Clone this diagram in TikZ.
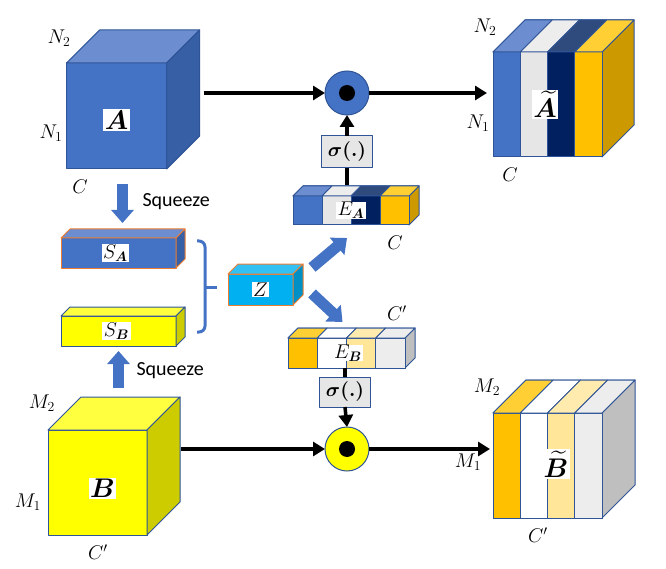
\documentclass[tikz,border=0pt]{standalone}
\usepackage{amsmath}
\usepackage{graphicx}
\usepackage{fontspec}
\newfontfamily\calibri{Carlito}
\usetikzlibrary{arrows.meta,calc,positioning}

\definecolor{ablue}{HTML}{4472C4}
\definecolor{abluetop}{HTML}{6C8ED0}
\definecolor{abluesd}{HTML}{365FA6}
\definecolor{edge}{HTML}{2F5597}
\definecolor{navy}{HTML}{002060}
\definecolor{navytop}{HTML}{2F4B7E}
\definecolor{lgray}{HTML}{E7E6E6}
\definecolor{lgraytop}{HTML}{EDEDED}
\definecolor{gold}{HTML}{FFC000}
\definecolor{goldtop}{HTML}{FFCF33}
\definecolor{goldsd}{HTML}{CC9A00}
\definecolor{yel}{HTML}{FFFF00}
\definecolor{yeltop}{HTML}{FFFF40}
\definecolor{yelsd}{HTML}{CCCC00}
\definecolor{lyel}{HTML}{FFE699}
\definecolor{lyeltop}{HTML}{FFEBAD}
\definecolor{pgray}{HTML}{EDEDED}
\definecolor{graysd}{HTML}{BFBFBF}
\definecolor{zcyan}{HTML}{00B0F0}
\definecolor{zcyantop}{HTML}{33C1F3}
\definecolor{zcyansd}{HTML}{0090C6}
\definecolor{orng}{HTML}{ED7D31}

\tikzset{
  face/.style={draw=#1, line width=1pt, line join=round, inner sep=0pt, outer sep=0pt},
  face/.default=edge,
  tag/.style={fill=white, inner sep=1.5pt},
  lbl/.style={font=\LARGE},
  big/.style={tag, font=\huge},
  flow/.style={line width=3.5pt, -{Triangle[width=14pt,length=12pt]}},
  blk/.style={line width=11pt, draw=ablue, -{Triangle[width=22pt,length=13pt]}},
  sig/.style={face, fill=lgray, minimum width=51pt, minimum height=32pt, font=\LARGE},
  mult/.style={circle, face, minimum size=44pt},
  sq/.style={font=\calibri\fontsize{20}{24}\selectfont, anchor=west},
}
% enlarged math labels
\newcommand{\mlab}[1]{\scalebox{1.15}{$#1$}}
\newcommand{\blab}[1]{\scalebox{1.3}{$\boldsymbol{#1}$}}

% name, position, width, height, depth, front, top, side, border
\newcommand{\cuboid}[9]{%
  \node[face=#9, fill=#6, minimum width=#3pt, minimum height=#4pt, anchor=north west] (#1) at #2 {};
  \draw[face=#9, fill=#7] (#1.north west) -- ++(#5,-#5) -- ++(#3,0) -- (#1.north east) -- cycle;
  \draw[face=#9, fill=#8] (#1.north east) -- ++(#5,-#5) -- ++(0,#4) -- (#1.south east) -- cycle;
}
% four channel stripes on front and top of a cuboid
\newcommand{\stripes}[5]{%
  \foreach \fc/\tc [count=\i from 0] in {#5}{
    \draw[face, fill=\fc] ($(#1.north west)+(\i*#2/4,0)$) rectangle ++(#2/4,#3);
    \draw[face, fill=\tc] ($(#1.north west)+(\i*#2/4,0)$) -- ++(#4,-#4) -- ++(#2/4,0) -- ++(-#4,#4) -- cycle;
  }%
}

\begin{document}
\begin{tikzpicture}[x=1pt,y=-1pt]
  \useasboundingbox (0,0) rectangle (666,569);
  % inputs
  \cuboid{A}{(66.7,63)}{100}{106}{33}{ablue}{abluetop}{abluesd}{edge}
  \node[big] (Alab) at ([yshift=-4pt]A.center) {\blab{A}};
  \cuboid{B}{(48,430)}{99}{105}{33}{yel}{yeltop}{yelsd}{edge}
  \node[big] (Blab) at ([xshift=5pt,yshift=-6pt]B.center) {\blab{B}};
  % squeezed vectors
  \cuboid{SA}{(61,238)}{115}{30}{9}{ablue}{abluetop}{abluesd}{orng}
  \node[tag, lbl, inner ysep=1pt] (SAlab) at ([xshift=-3pt]SA.center) {\mlab{S_{\boldsymbol{A}}}};
  \cuboid{SB}{(61,316)}{115}{30}{9}{yel}{yeltop}{yelsd}{edge}
  \node[tag, lbl, inner ysep=1pt] (SBlab) at ([xshift=-2pt]SB.center) {\mlab{S_{\boldsymbol{B}}}};
  \cuboid{Z}{(228,274)}{65}{31}{10}{zcyan}{zcyantop}{zcyansd}{orng}
  \node[tag, lbl, inner ysep=1pt] (Zlab) at (Z.center) {\mlab{Z}};
  % excitation vectors
  \cuboid{EA}{(293,196)}{116}{29}{10}{ablue}{abluetop}{goldsd}{edge}
  \stripes{EA}{116}{29}{10}{ablue/abluetop, lgray/lgraytop, navy/navytop, gold/goldtop}
  \node[tag, lbl, inner ysep=0pt] (EAlab) at (EA.center) {\mlab{E_{\boldsymbol{A}}}};
  \cuboid{EB}{(288,338)}{117}{30}{10}{gold}{goldtop}{graysd}{edge}
  \stripes{EB}{117}{30}{10}{gold/goldtop, white/white, lyel/lyeltop, pgray/pgray}
  \node[tag, lbl, inner ysep=0pt] (EBlab) at ([xshift=1.5pt]EB.center) {\mlab{E_{\boldsymbol{B}}}};
  % outputs
  \cuboid{At}{(493,52)}{109}{105}{32}{ablue}{abluetop}{goldsd}{edge}
  \stripes{At}{109}{105}{32}{ablue/abluetop, lgray/lgraytop, navy/navytop, gold/goldtop}
  \node[big] (Atlab) at ([xshift=-2.5pt]At.center) {\blab{\widetilde{A}}};
  \cuboid{Bt}{(493,413)}{109}{105}{33}{gold}{goldtop}{graysd}{edge}
  \stripes{Bt}{109}{105}{33}{gold/goldtop, white/white, lyel/lyeltop, pgray/pgray}
  \node[big] (Btlab) at ([xshift=8.5pt,yshift=1.5pt]Bt.center) {\blab{\widetilde{B}}};
  % gates
  \node[mult, fill=ablue] (c1) at (347,93) {};
  \fill (c1) circle (8);
  \node[mult, fill=yel] (c2) at (347,449) {};
  \fill (c2) circle (8);
  \node[sig] (s1) at (347,152) {\mlab{\boldsymbol{\sigma(.)}}};
  \node[sig, minimum height=30pt] (s2) at (345,392) {\mlab{\boldsymbol{\sigma(.)}}};
  % connections
  \draw[flow, shorten <=37pt] (A.east |- c1) -- (c1.west);
  \draw[flow, shorten >=6pt] (c1.east) -- (At.west |- c1);
  \draw[flow] (s1.north) -- (c1.south);
  \draw[line width=3.5pt, shorten >=11pt] (s1.south) -- (s1.south |- EA.north);
  \draw[flow, shorten <=34pt] (B.east |- c2) -- (c2.west);
  \draw[flow, shorten >=3pt] (c2.east) -- (Bt.west |- c2);
  \draw[line width=3.5pt] (s2.north |- EB.south) -- (s2.north);
  \draw[flow] (s2.south) -- (c2.north);
  \draw[blk, shorten <=15pt, shorten >=15pt] ([xshift=4pt]SA.north |- A.south) -- ([xshift=4pt]SA.north);
  \draw[blk, shorten <=42pt, shorten >=5pt] (SB.south |- B.north) -- (SB.south);
  \draw[blk] ($(Z.east)+(19,-22)$) -- ($(EA.south)+(-4,13)$);
  \draw[blk] ($(Z.east)+(19,4)$) -- ($(EB.north)+(-4,-16)$);
  % brace
  \draw[ablue, line width=3pt, rounded corners=6pt] (197,241) -- (205,241) -- (205,332) -- (197,332);
  \draw[ablue, line width=3pt] (205,287) -- (217,287);
  % dimension labels
  \node[lbl] (lN2a) at (59,38) {\mlab{N_2}};
  \node[lbl] (lN1a) at (51,133) {\mlab{N_1}};
  \node[lbl] (lCa) at (80,187) {\mlab{C}};
  \node[lbl] (lCea) at (395,243) {\mlab{C}};
  \node[lbl] (lN2t) at (485,27) {\mlab{N_2}};
  \node[lbl] (lN1t) at (478,123) {\mlab{N_1}};
  \node[lbl] (lCt) at (510,175) {\mlab{C}};
  \node[lbl] (lM2b) at (42,403) {\mlab{M_2}};
  \node[lbl] (lM1b) at (28,502) {\mlab{M_1}};
  \node[lbl] (lCb) at (98,552) {\mlab{C'}};
  \node[lbl] (lCeb) at (397,313) {\mlab{C'}};
  \node[lbl] (lM2t) at (487,387) {\mlab{M_2}};
  \node[lbl] (lM1t) at (468,462) {\mlab{M_1}};
  \node[lbl] (lCbt) at (538,535) {\mlab{C'}};
  \node[sq] (sqA) at (139,202) {Squeeze};
  \node[sq] (sqB) at (133,371) {Squeeze};
\end{tikzpicture}
\end{document}
